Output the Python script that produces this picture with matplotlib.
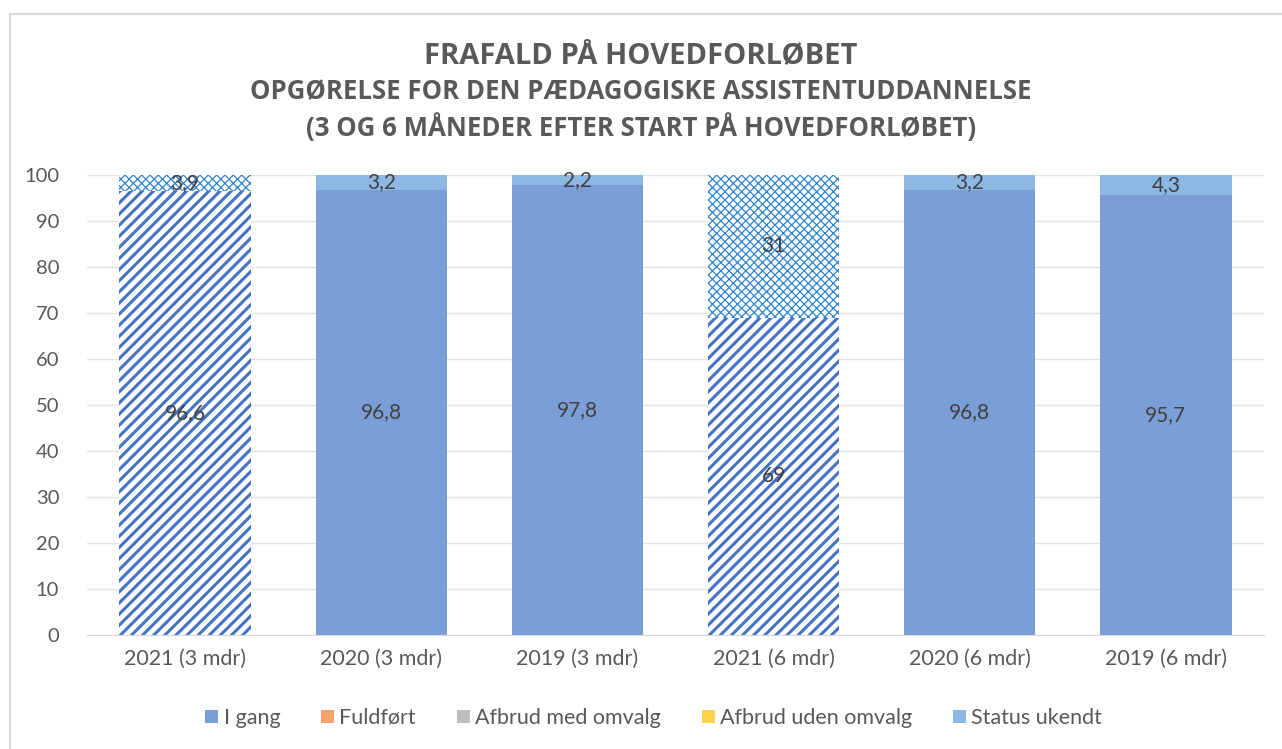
import numpy as np
import matplotlib
matplotlib.use("Agg")
import matplotlib.pyplot as plt
from matplotlib.patches import Rectangle, Patch

plt.rcParams['font.family'] = ['Lato', 'DejaVu Sans']

categories = ["2021 (3 mdr)", "2020 (3 mdr)", "2019 (3 mdr)",
              "2021 (6 mdr)", "2020 (6 mdr)", "2019 (6 mdr)"]
i_gang = [96.6, 96.8, 97.8, 69, 96.8, 95.7]
fuldfort = [0, 0, 0, 0, 0, 0]
afbrud_med = [0, 0, 0, 0, 0, 0]
afbrud_uden = [0, 0, 0, 0, 0, 0]
status_ukendt = [3.9, 3.2, 2.2, 31, 3.2, 4.3]
hatched = [True, False, False, True, False, False]

series_names = ["I gang", "Fuldført", "Afbrud med omvalg", "Afbrud uden omvalg", "Status ukendt"]
series_colors = ["#7C9ED7", "#F4A46C", "#BFBFBF", "#FFD34D", "#8DB8E4"]

fig = plt.figure(figsize=(12.82, 7.49), dpi=100)
fig.patches.append(Rectangle((10 / 1282, -0.05), 1.2, 1 - 14 / 749 + 0.05,
                             transform=fig.transFigure, fill=False,
                             edgecolor="#D9D9D9", linewidth=1.5))
ax = fig.add_axes([87 / 1282, 1 - 635 / 749, (1264 - 87) / 1282, 460 / 749])

x = np.arange(len(categories))
w = 0.67
text_col = "#404040"

def fmt(v):
    return f"{v:g}".replace(".", ",")

bottom = np.zeros(len(categories))
all_series = [i_gang, fuldfort, afbrud_med, afbrud_uden, status_ukendt]
for k, vals in enumerate(all_series):
    for j, v in enumerate(vals):
        if v == 0:
            continue
        if hatched[j]:
            if k == 0:
                with plt.rc_context({'hatch.linewidth': 2.2}):
                    ax.bar(x[j], v, w, bottom=bottom[j], color="white",
                           edgecolor="#4472C4", hatch="///", linewidth=0)
            else:
                with plt.rc_context({'hatch.linewidth': 0.9}):
                    ax.bar(x[j], v, w, bottom=bottom[j], color="white",
                           edgecolor="#2F86CF", hatch="xxxx", linewidth=0)
        else:
            ax.bar(x[j], v, w, bottom=bottom[j], color=series_colors[k], linewidth=0)
        top = min(bottom[j] + v, 100)
        yc = (bottom[j] + top) / 2
        ax.text(x[j], yc, fmt(v), ha="center", va="center", fontsize=15, color=text_col)
    bottom += np.array(vals)

ax.set_ylim(0, 100)
ax.set_xlim(-0.5, len(categories) - 0.5)
ax.set_yticks(range(0, 101, 10))
ax.set_xticks(x)
ax.set_xticklabels(categories)
ax.tick_params(axis="both", length=0, labelsize=14.5, colors="#595959")
ax.tick_params(axis="x", labelsize=15.5, pad=10)
ax.tick_params(axis="y", pad=20)
ax.grid(axis="y", color="#E3E3E3", linewidth=1)
ax.set_axisbelow(True)
for s in ["top", "right", "left"]:
    ax.spines[s].set_visible(False)
ax.spines["bottom"].set_color("#D9D9D9")

title_font = ["Open Sans", "DejaVu Sans"]
fig.text(0.5, 1 - 56 / 749, "FRAFALD PÅ HOVEDFORLØBET", ha="center", va="center",
         fontsize=21, fontweight="bold", color="#595959", family=title_font)
fig.text(0.5, 1 - 92 / 749, "OPGØRELSE FOR DEN PÆDAGOGISKE ASSISTENTUDDANNELSE", ha="center",
         va="center", fontsize=18.5, fontweight="bold", color="#595959", family=title_font)
fig.text(0.5, 1 - 128 / 749, "(3 OG 6 MÅNEDER EFTER START PÅ HOVEDFORLØBET)", ha="center",
         va="center", fontsize=18.5, fontweight="bold", color="#595959", family=title_font)

handles = [Patch(facecolor=c, edgecolor="none") for c in series_colors]
fig.legend(handles, series_names, loc="center", bbox_to_anchor=(0.51, 1 - 718 / 749),
           ncol=5, frameon=False, fontsize=15.5, handlelength=0.6, handleheight=0.6,
           handletextpad=0.25, columnspacing=1.9, labelcolor="#595959")

fig.savefig("out.png", dpi=100)
